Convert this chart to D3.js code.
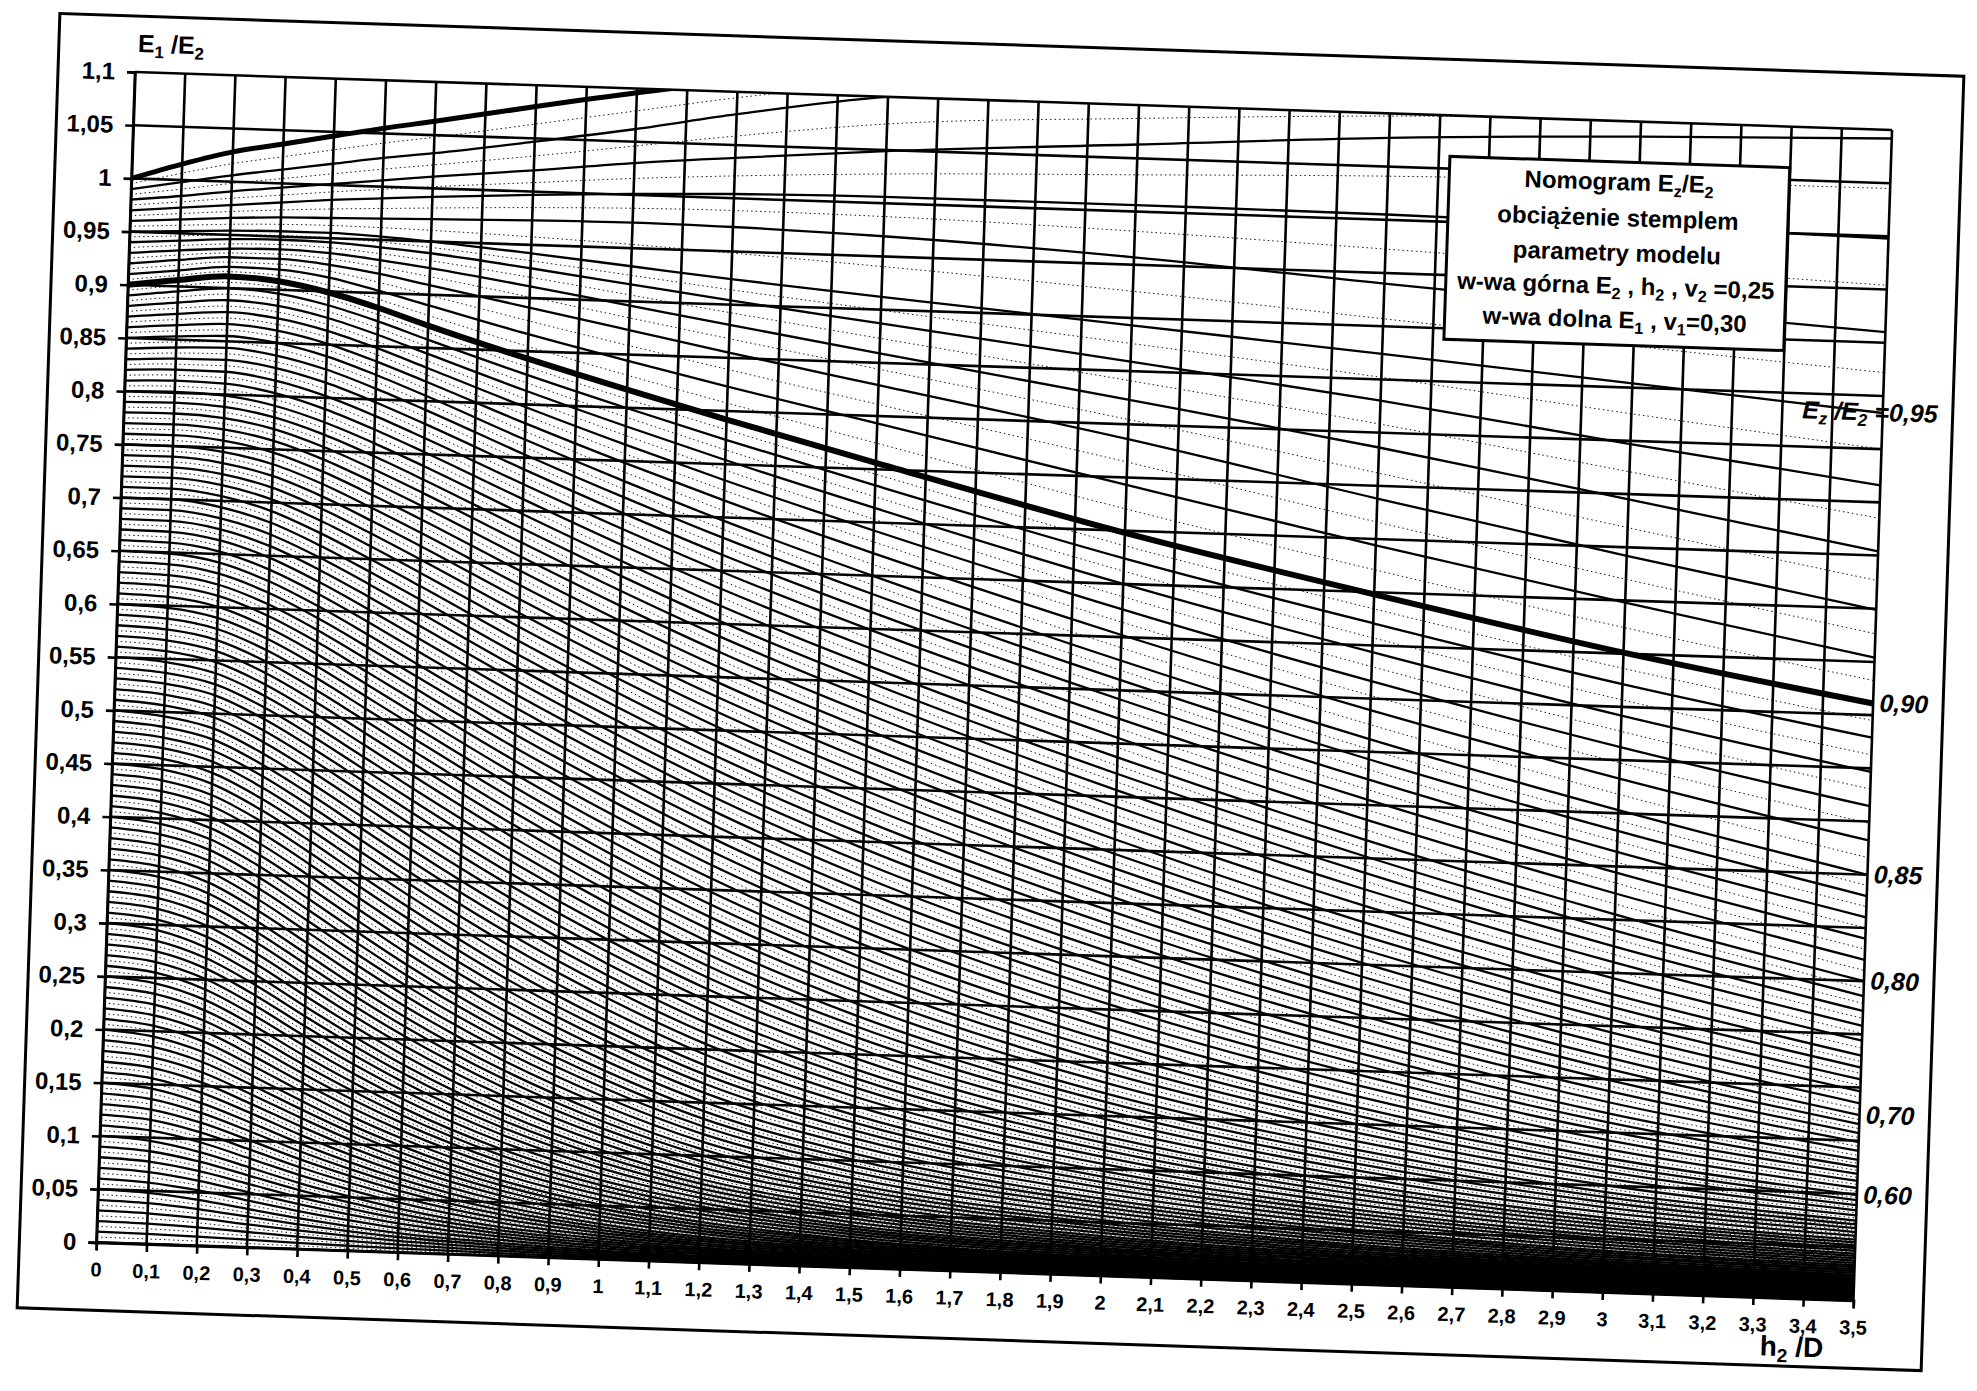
<!DOCTYPE html>
<html><head><meta charset="utf-8">
<script src="https://cdn.jsdelivr.net/npm/d3@7"></script>
<style>body{margin:0;background:#fff}svg{display:block}</style>
</head><body>
<svg id="chart" width="1977" height="1391"></svg>
<script>
// ---- data (E1/E2 along each iso-line Ez/E2 = c) ----
const xSamples = [0,0.1,0.2,0.3,0.4,0.5,0.6,0.8,1.0,1.2,1.5,2.0,2.5,3.0,3.5];
const c100 = [1.000,1.015,1.028,1.037,1.046,1.055,1.063,1.080,1.096,1.110,1.125,1.140,1.150,1.160,1.165];
const c099 = [0.990,0.998,1.006,1.013,1.020,1.027,1.033,1.047,1.062,1.079,1.100,1.112,1.118,1.120,1.120];
const c098 = [0.980,0.985,0.991,0.996,1.001,1.006,1.011,1.020,1.030,1.038,1.049,1.063,1.077,1.086,1.092];
const c097 = [0.970,0.974,0.978,0.982,0.986,0.989,0.992,0.997,1.001,1.004,1.006,1.006,1.005,1.002,0.998];
const c096 = [0.960,0.963,0.966,0.968,0.969,0.970,0.971,0.973,0.974,0.973,0.969,0.957,0.940,0.924,0.910];
const c095 = [0.950,0.952,0.954,0.955,0.955,0.953,0.950,0.942,0.933,0.924,0.912,0.893,0.874,0.854,0.834];
const c094 = [0.940,0.943,0.946,0.947,0.946,0.943,0.939,0.928,0.916,0.904,0.887,0.859,0.830,0.797,0.766];
const c093 = [0.930,0.934,0.937,0.938,0.936,0.931,0.925,0.911,0.896,0.881,0.859,0.823,0.786,0.745,0.704];
const c092 = [0.920,0.925,0.929,0.929,0.925,0.918,0.909,0.891,0.873,0.855,0.829,0.786,0.738,0.692,0.649];
const c091 = [0.910,0.915,0.920,0.919,0.913,0.902,0.890,0.866,0.844,0.823,0.793,0.743,0.694,0.648,0.604];
const c090 = [0.900,0.906,0.911,0.908,0.899,0.886,0.871,0.843,0.817,0.792,0.756,0.698,0.648,0.601,0.561];
const c085 = [0.850,0.853,0.855,0.850,0.839,0.823,0.805,0.767,0.731,0.697,0.650,0.578,0.512,0.453,0.400];
const c080 = [0.800,0.801,0.799,0.791,0.777,0.759,0.739,0.697,0.656,0.617,0.565,0.487,0.417,0.355,0.300];
const c075 = [0.750,0.750,0.746,0.736,0.719,0.698,0.676,0.630,0.586,0.545,0.490,0.410,0.340,0.280,0.230];
const c070 = [0.700,0.700,0.694,0.681,0.661,0.638,0.614,0.565,0.519,0.476,0.420,0.342,0.276,0.220,0.174];
const c065 = [0.650,0.649,0.642,0.626,0.604,0.579,0.553,0.502,0.455,0.411,0.354,0.278,0.217,0.168,0.132];
const c060 = [0.600,0.598,0.590,0.572,0.548,0.521,0.494,0.441,0.392,0.348,0.292,0.220,0.166,0.126,0.099];
const c055 = [0.550,0.547,0.538,0.518,0.492,0.464,0.436,0.382,0.333,0.289,0.236,0.171,0.126,0.094,0.075];
const c050 = [0.500,0.496,0.486,0.464,0.437,0.408,0.379,0.325,0.277,0.235,0.186,0.131,0.094,0.070,0.057];
const c045 = [0.450,0.446,0.434,0.411,0.383,0.353,0.324,0.270,0.224,0.185,0.143,0.098,0.070,0.053,0.044];
const c040 = [0.400,0.395,0.382,0.358,0.329,0.299,0.270,0.219,0.177,0.142,0.107,0.072,0.051,0.039,0.033];
const c035 = [0.350,0.345,0.331,0.306,0.277,0.248,0.221,0.174,0.136,0.106,0.078,0.052,0.037,0.029,0.024];
const c030 = [0.300,0.295,0.280,0.256,0.228,0.201,0.176,0.134,0.102,0.078,0.056,0.037,0.027,0.021,0.017];
const c025 = [0.250,0.245,0.231,0.208,0.182,0.158,0.136,0.100,0.074,0.056,0.039,0.026,0.019,0.015,0.012];
const c020 = [0.200,0.195,0.182,0.161,0.139,0.118,0.100,0.071,0.051,0.038,0.026,0.017,0.012,0.010,0.008];
const c015 = [0.150,0.146,0.134,0.117,0.099,0.083,0.069,0.047,0.033,0.024,0.017,0.011,0.008,0.006,0.005];
const c010 = [0.100,0.097,0.088,0.075,0.062,0.051,0.041,0.027,0.019,0.014,0.009,0.006,0.004,0.003,0.003];
const c005 = [0.050,0.048,0.043,0.036,0.029,0.023,0.018,0.012,0.008,0.006,0.004,0.003,0.002,0.002,0.001];
const c000 = [0,0,0,0,0,0,0,0,0,0,0,0,0,0,0];

const keyRatios = [0,0.05,0.10,0.15,0.20,0.25,0.30,0.35,0.40,0.45,0.50,0.55,0.60,0.65,0.70,0.75,0.80,0.85,
                   0.90,0.91,0.92,0.93,0.94,0.95,0.96,0.97,0.98,0.99,1.00];
const keyCurves = [c000,c005,c010,c015,c020,c025,c030,c035,c040,c045,c050,c055,c060,c065,c070,c075,c080,c085,
                   c090,c091,c092,c093,c094,c095,c096,c097,c098,c099,c100];

const yTicks = [0,0.05,0.1,0.15,0.2,0.25,0.3,0.35,0.4,0.45,0.5,0.55,0.6,0.65,0.7,0.75,0.8,0.85,0.9,0.95,1,1.05,1.1];
const yTickLabels = ["0","0,05","0,1","0,15","0,2","0,25","0,3","0,35","0,4","0,45","0,5","0,55","0,6","0,65","0,7","0,75","0,8","0,85","0,9","0,95","1","1,05","1,1"];
const xTicks = d3.range(0,36).map(i=>i/10);
const xTickLabels = ["0","0,1","0,2","0,3","0,4","0,5","0,6","0,7","0,8","0,9","1","1,1","1,2","1,3","1,4","1,5","1,6","1,7","1,8","1,9","2","2,1","2,2","2,3","2,4","2,5","2,6","2,7","2,8","2,9","3","3,1","3,2","3,3","3,4","3,5"];
const rightLabelRatios = [0.95,0.90,0.85,0.80,0.70,0.60];
const rightLabelTexts = ["0,95","0,90","0,85","0,80","0,70","0,60"];
const legendLines = ["Nomogram E|z|/E|2","obciążenie stemplem","parametry modelu","w-wa górna E|2| , h|2| , v|2| =0,25","w-wa dolna E|1| , v|1|=0,30"];

// ---- layout ----
const W = 1977, H = 1391;
const P = {l:135, t:72, w:1758, h:1171};
const x = d3.scaleLinear().domain([0,3.5]).range([P.l, P.l+P.w]);
const y = d3.scaleLinear().domain([0,1.1]).range([P.t+P.h, P.t]);
const FONT = "'Liberation Sans', Arial, sans-serif";

const svg = d3.select('#chart');
svg.append('rect').attr('width',W).attr('height',H).attr('fill','#fff');
const g = svg.append('g').attr('transform',`rotate(1.89 ${P.l} ${P.t})`);

// outer frame
g.append('rect').attr('x',P.l-77).attr('y',P.t-56).attr('width',P.w+147).attr('height',P.h+124)
  .attr('fill','none').attr('stroke','#000').attr('stroke-width',3);

svg.append('defs').append('clipPath').attr('id','clip').append('rect')
  .attr('x',P.l).attr('y',P.t).attr('width',P.w).attr('height',P.h);

// curve family
function curveFor(c){
  let k = d3.bisectRight(keyRatios, c + 1e-9) - 1;
  if (k >= keyRatios.length-1) return keyCurves[keyCurves.length-1];
  const c0 = keyRatios[k], c1 = keyRatios[k+1];
  const t = (c - c0)/(c1 - c0);
  if (t < 1e-6) return keyCurves[k];
  return keyCurves[k].map((v,j)=> v + (keyCurves[k+1][j]-v)*t);
}
const line = d3.line().x((d,j)=>x(xSamples[j])).y(d=>y(d)).curve(d3.curveMonotoneX);
const curves = g.append('g').attr('clip-path','url(#clip)');
const family = d3.range(0,201).map(i=>({i, c:i/200}));
curves.selectAll('path.fam').data(family).join('path')
  .attr('class','fam')
  .attr('d', d=>line(curveFor(d.c)))
  .attr('fill','none').attr('stroke','#000')
  .attr('stroke-width', d=> d.i===180 ? 6 : d.i===200 ? 5 : (d.i%2===0 ? 2.3 : 0.9))
  .attr('stroke-dasharray', d=> d.i%2===1 ? '1.5,3' : null);

// grid
const grid = g.append('g');
grid.selectAll('line.h').data(yTicks).join('line').attr('class','h')
  .attr('x1',x(0)).attr('x2',x(3.5)).attr('y1',d=>y(d)).attr('y2',d=>y(d))
  .attr('stroke','#000').attr('stroke-width',2.6);
grid.selectAll('line.v').data(xTicks).join('line').attr('class','v')
  .attr('y1',y(0)).attr('y2',y(1.1)).attr('x1',d=>x(d)).attr('x2',d=>x(d))
  .attr('stroke','#000').attr('stroke-width',2.6);

// axes
const yAxis = g.append('g').attr('transform',`translate(${P.l},0)`)
  .call(d3.axisLeft(y).tickValues(yTicks).tickFormat((d,i)=>yTickLabels[i]).tickSize(8).tickPadding(12));
yAxis.select('.domain').attr('stroke-width',2.6);
yAxis.selectAll('.tick line').attr('stroke-width',2.6);
yAxis.selectAll('text').attr('font-family',FONT).attr('font-size',24).attr('font-weight','bold').attr('fill','#000');

const xAxis = g.append('g').attr('transform',`translate(0,${P.t+P.h})`)
  .call(d3.axisBottom(x).tickValues(xTicks).tickFormat((d,i)=>xTickLabels[i]).tickSize(8).tickPadding(12));
xAxis.select('.domain').attr('stroke-width',2.6);
xAxis.selectAll('.tick line').attr('stroke-width',2.6);
xAxis.selectAll('text').attr('font-family',FONT).attr('font-size',20).attr('font-weight','bold').attr('fill','#000');

// rich text helper: segments separated by '|' alternate normal / subscript
function rich(sel, str, size){
  const parts = str.split('|');
  parts.forEach((p,k)=>{
    const sub = k%2===1;
    const ts = sel.append('tspan').text(p);
    if (sub) ts.attr('font-size', size*0.68).attr('dy', size*0.22);
    else if (k>0) ts.attr('dy', -size*0.22);
  });
}

// axis titles
rich(g.append('text').attr('x',P.l+2).attr('y',P.t-20).attr('font-family',FONT).attr('font-size',25)
  .attr('font-weight','bold'), 'E|1| /E|2', 25);
rich(g.append('text').attr('x',x(3.38)).attr('y',P.t+P.h+58).attr('text-anchor','middle')
  .attr('font-family',FONT).attr('font-size',28).attr('font-weight','bold'), 'h|2| /D', 28);

// legend box
const lg = g.append('g');
lg.append('rect').attr('x',1452).attr('y',113).attr('width',340).attr('height',183)
  .attr('fill','#fff').attr('stroke','#000').attr('stroke-width',3);
const legendY = [141,177,212,245,279];
legendLines.forEach((s,i)=>{
  rich(lg.append('text').attr('x',1622).attr('y',legendY[i]).attr('text-anchor','middle')
    .attr('font-family',FONT).attr('font-size',24).attr('font-weight','bold'), s, 24);
});

// right-hand iso-line labels
rightLabelRatios.forEach((c,i)=>{
  const v = curveFor(c)[xSamples.length-1];
  const t = g.append('text').attr('x',P.l+P.w+55).attr('y',y(v)+8).attr('text-anchor','end')
    .attr('font-family',FONT).attr('font-size',25).attr('font-weight','bold').attr('font-style','italic');
  if (i===0) rich(t, 'E|z| /E|2| =' + rightLabelTexts[i], 25);
  else t.text(rightLabelTexts[i]);
});
</script>
</body></html>
